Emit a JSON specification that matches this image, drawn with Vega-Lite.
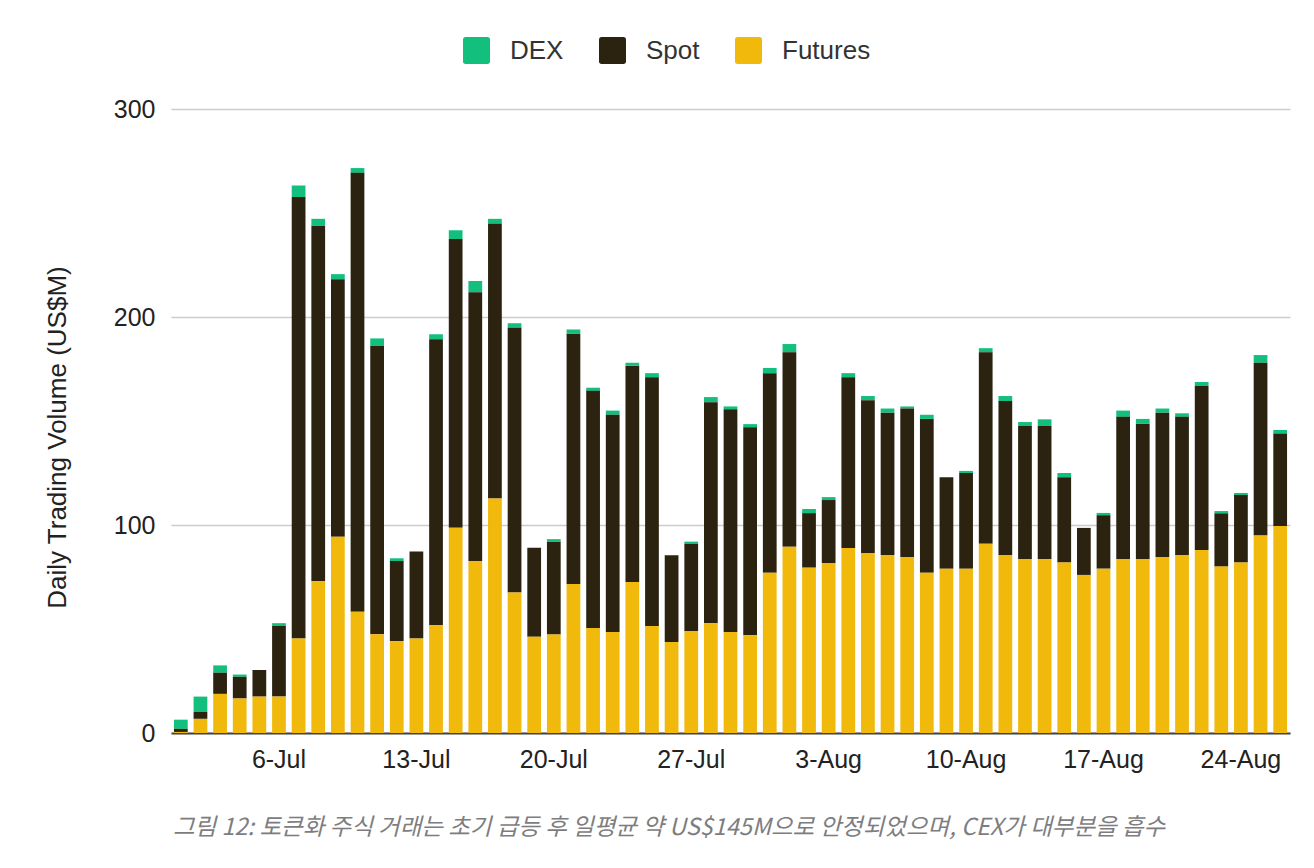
{
  "$schema": "https://vega.github.io/schema/vega-lite/v6.json",
  "width": 1119,
  "height": 624,
  "autosize": {"type": "none"},
  "padding": {"left": 171, "top": 109, "right": 24, "bottom": 135},
  "background": "white",
  "title": {
    "text": "그림 12: 토큰화 주식 거래는 초기 급등 후 일평균 약 US$145M으로 안정되었으며, CEX가 대부분을 흡수",
    "orient": "bottom",
    "anchor": "start",
    "frame": "group",
    "dx": 2,
    "offset": 44,
    "font": "Noto Sans CJK KR",
    "fontSize": 23.5,
    "fontStyle": "italic",
    "fontWeight": "normal",
    "color": "#7d7d80"
  },
  "data": {
    "values": [
      {"d": "1-Jul", "Futures": 0.5, "Spot": 1.5, "DEX": 4.4},
      {"d": "2-Jul", "Futures": 6.8, "Spot": 3.3, "DEX": 7.4},
      {"d": "3-Jul", "Futures": 18.8, "Spot": 10.2, "DEX": 3.5},
      {"d": "4-Jul", "Futures": 16.6, "Spot": 10.4, "DEX": 1.1},
      {"d": "5-Jul", "Futures": 17.5, "Spot": 12.8, "DEX": 0},
      {"d": "6-Jul", "Futures": 17.5, "Spot": 33.9, "DEX": 1.4},
      {"d": "7-Jul", "Futures": 45.4, "Spot": 212.3, "DEX": 5.5},
      {"d": "8-Jul", "Futures": 73, "Spot": 170.9, "DEX": 3.3},
      {"d": "9-Jul", "Futures": 94.3, "Spot": 123.9, "DEX": 2.4},
      {"d": "10-Jul", "Futures": 58.3, "Spot": 211, "DEX": 2.3},
      {"d": "11-Jul", "Futures": 47.5, "Spot": 138.7, "DEX": 3.5},
      {"d": "12-Jul", "Futures": 44.1, "Spot": 38.6, "DEX": 1.3},
      {"d": "13-Jul", "Futures": 45.4, "Spot": 41.9, "DEX": 0},
      {"d": "14-Jul", "Futures": 51.8, "Spot": 137.5, "DEX": 2.4},
      {"d": "15-Jul", "Futures": 98.7, "Spot": 138.8, "DEX": 4.2},
      {"d": "16-Jul", "Futures": 82.7, "Spot": 129.2, "DEX": 5.4},
      {"d": "17-Jul", "Futures": 112.7, "Spot": 132.3, "DEX": 2.2},
      {"d": "18-Jul", "Futures": 67.6, "Spot": 127.2, "DEX": 2.2},
      {"d": "19-Jul", "Futures": 46.3, "Spot": 42.8, "DEX": 0},
      {"d": "20-Jul", "Futures": 47.3, "Spot": 44.7, "DEX": 1.2},
      {"d": "21-Jul", "Futures": 71.6, "Spot": 120.4, "DEX": 2},
      {"d": "22-Jul", "Futures": 50.5, "Spot": 114, "DEX": 1.5},
      {"d": "23-Jul", "Futures": 48.5, "Spot": 104.5, "DEX": 2},
      {"d": "24-Jul", "Futures": 72.6, "Spot": 103.9, "DEX": 1.5},
      {"d": "25-Jul", "Futures": 51.4, "Spot": 119.6, "DEX": 2},
      {"d": "26-Jul", "Futures": 43.8, "Spot": 41.7, "DEX": 0},
      {"d": "27-Jul", "Futures": 49, "Spot": 42, "DEX": 1},
      {"d": "28-Jul", "Futures": 52.8, "Spot": 106.2, "DEX": 2.5},
      {"d": "29-Jul", "Futures": 48.5, "Spot": 107.2, "DEX": 1.3},
      {"d": "30-Jul", "Futures": 47, "Spot": 100, "DEX": 1.5},
      {"d": "31-Jul", "Futures": 77, "Spot": 96, "DEX": 2.5},
      {"d": "1-Aug", "Futures": 89.5, "Spot": 93.5, "DEX": 4},
      {"d": "2-Aug", "Futures": 79.5, "Spot": 26.2, "DEX": 2},
      {"d": "3-Aug", "Futures": 81.7, "Spot": 30.3, "DEX": 1.4},
      {"d": "4-Aug", "Futures": 89, "Spot": 82, "DEX": 2},
      {"d": "5-Aug", "Futures": 86.5, "Spot": 73.5, "DEX": 2},
      {"d": "6-Aug", "Futures": 85.6, "Spot": 68.4, "DEX": 2},
      {"d": "7-Aug", "Futures": 84.6, "Spot": 71.4, "DEX": 1},
      {"d": "8-Aug", "Futures": 77, "Spot": 74, "DEX": 2},
      {"d": "9-Aug", "Futures": 79, "Spot": 44, "DEX": 0},
      {"d": "10-Aug", "Futures": 79, "Spot": 46, "DEX": 1},
      {"d": "11-Aug", "Futures": 91, "Spot": 92, "DEX": 2},
      {"d": "12-Aug", "Futures": 85.6, "Spot": 74, "DEX": 2.4},
      {"d": "13-Aug", "Futures": 83.6, "Spot": 64, "DEX": 1.9},
      {"d": "14-Aug", "Futures": 83.6, "Spot": 64, "DEX": 3.2},
      {"d": "15-Aug", "Futures": 82, "Spot": 41, "DEX": 2},
      {"d": "16-Aug", "Futures": 76, "Spot": 22.6, "DEX": 0},
      {"d": "17-Aug", "Futures": 79, "Spot": 25.7, "DEX": 1.1},
      {"d": "18-Aug", "Futures": 83.6, "Spot": 68.4, "DEX": 3},
      {"d": "19-Aug", "Futures": 83.6, "Spot": 65, "DEX": 2.4},
      {"d": "20-Aug", "Futures": 84.6, "Spot": 69.4, "DEX": 2},
      {"d": "21-Aug", "Futures": 85.6, "Spot": 66.4, "DEX": 1.7},
      {"d": "22-Aug", "Futures": 88, "Spot": 78.8, "DEX": 1.9},
      {"d": "23-Aug", "Futures": 80, "Spot": 25.6, "DEX": 1.1},
      {"d": "24-Aug", "Futures": 82, "Spot": 32.4, "DEX": 1},
      {"d": "25-Aug", "Futures": 95, "Spot": 83, "DEX": 3.7},
      {"d": "26-Aug", "Futures": 99.5, "Spot": 44.5, "DEX": 1.7}
    ]
  },
  "transform": [
    {"fold": ["DEX", "Spot", "Futures"], "as": ["type", "value"]},
    {"calculate": "indexof(['Futures', 'Spot', 'DEX'], datum.type)", "as": "stackOrder"}
  ],
  "mark": {"type": "bar"},
  "encoding": {
    "x": {
      "field": "d",
      "type": "ordinal",
      "sort": null,
      "scale": {"paddingInner": 0.3, "paddingOuter": 0.15},
      "axis": {
        "title": null,
        "values": ["6-Jul", "13-Jul", "20-Jul", "27-Jul", "3-Aug", "10-Aug", "17-Aug", "24-Aug"],
        "labelAngle": 0,
        "ticks": false,
        "labelPadding": 14,
        "domainColor": "#444444",
        "domainWidth": 2
      }
    },
    "y": {
      "field": "value",
      "type": "quantitative",
      "stack": "zero",
      "scale": {"domain": [0, 300], "nice": false},
      "axis": {
        "title": "Daily Trading Volume (US$M)",
        "values": [0, 100, 200, 300],
        "domain": false,
        "ticks": false,
        "labelPadding": 16,
        "titleX": -114,
        "titleY": 328,
        "titleAngle": -90,
        "titleAlign": "center",
        "titleBaseline": "middle"
      }
    },
    "color": {
      "field": "type",
      "type": "nominal",
      "scale": {
        "domain": ["DEX", "Spot", "Futures"],
        "range": ["#12bf7c", "#2b2210", "#f0b90b"]
      },
      "legend": {
        "title": null,
        "orient": "none",
        "direction": "horizontal",
        "legendX": 292,
        "legendY": -72,
        "symbolType": "M-0.8,-1H0.8Q1,-1,1,-0.8V0.8Q1,1,0.8,1H-0.8Q-1,1,-1,0.8V-0.8Q-1,-1,-0.8,-1Z",
        "symbolSize": 729,
        "symbolStrokeWidth": 0,
        "symbolOpacity": 1,
        "labelOffset": 20,
        "columnPadding": 35,
        "labelFontSize": 26,
        "labelFont": "Liberation Sans",
        "labelColor": "#333333"
      }
    },
    "order": {"field": "stackOrder", "type": "quantitative", "sort": "ascending"}
  },
  "config": {
    "view": {"stroke": null},
    "axis": {
      "labelFont": "Liberation Sans",
      "labelFontSize": 25,
      "labelColor": "#222222",
      "titleFont": "Liberation Sans",
      "titleFontSize": 26,
      "titleFontWeight": "normal",
      "titleColor": "#222222",
      "gridColor": "#cccccc",
      "gridWidth": 1.5
    }
  }
}
